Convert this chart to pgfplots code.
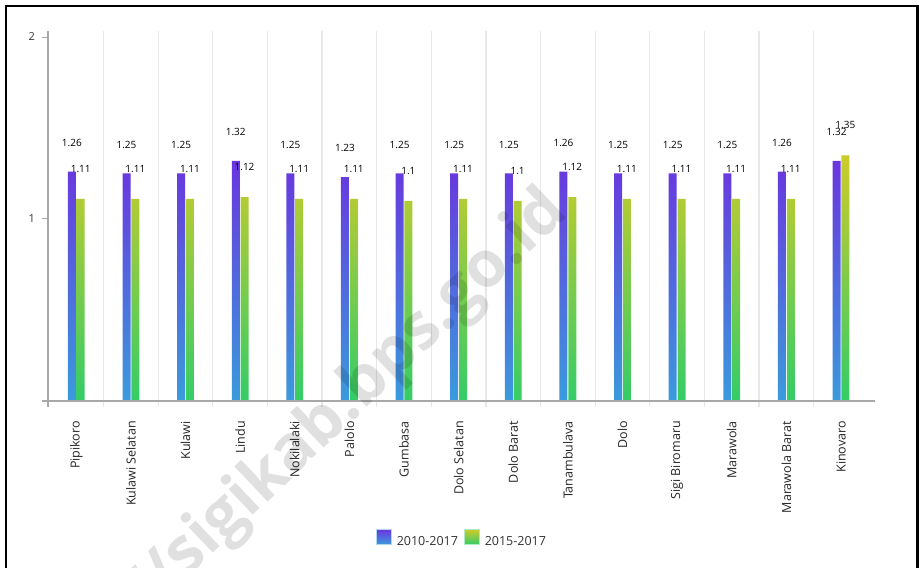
\documentclass[border=0pt]{standalone}
\usepackage{fontspec}
\setmainfont{Open Sans}
\usepackage{pgfplots}
\usepackage{pgfplotstable}
\pgfplotsset{compat=1.18}

\definecolor{aTop}{HTML}{6A35DE}
\definecolor{aBot}{HTML}{3A9BDC}
\definecolor{bTop}{HTML}{CDCB2A}
\definecolor{bBot}{HTML}{34CC68}
\definecolor{axgray}{HTML}{A8A8A8}
\definecolor{gridgray}{HTML}{E8E8E8}
\definecolor{txt}{HTML}{333333}

% x  2010-2017  2015-2017
\pgfplotstableread{
x a    b
0  1.26 1.11
1  1.25 1.11
2  1.25 1.11
3  1.32 1.12
4  1.25 1.11
5  1.23 1.11
6  1.25 1.10
7  1.25 1.11
8  1.25 1.10
9  1.26 1.12
10 1.25 1.11
11 1.25 1.11
12 1.25 1.11
13 1.26 1.11
14 1.32 1.35
}\tbl

\begin{document}
\begin{tikzpicture}[x=1pt,y=1pt]
\useasboundingbox (0,0) rectangle (919,568);

\begin{axis}[
    at={(48pt,161pt)}, anchor=south west,
    scale only axis, width=827pt, height=376pt,
    xmin=-0.518, xmax=14.623,
    ymin=-0.033, ymax=2.033,
    axis line style={draw=none},
    clip=false,
    ybar=0.8pt, bar width=8pt,
    xtick={0,...,14},
    xticklabels={Pipikoro, Kulawi Selatan, Kulawi, Lindu, Nokilalaki, Palolo, Gumbasa,
                 Dolo Selatan, Dolo Barat, Tanambulava, Dolo, Sigi Biromaru, Marawola,
                 Marawola Barat, Kinovaro},
    x tick style={draw=none},
    xticklabel style={font=\fontsize{12.5}{14}\selectfont, text=black!85,
                      inner sep=0pt, yshift=-8pt, rotate=90, anchor=east},
    minor xtick={0.5,1.5,...,13.5},
    xminorgrids=true,
    minor x grid style={gridgray, line width=1.2pt},
    ytick={0,1,2}, yticklabels={,1,2},
    ytick pos=left, xtick pos=bottom,
    tick align=outside, major tick length=6pt,
    y tick style={axgray, line width=1pt},
    yticklabel style={font=\fontsize{11}{13}\selectfont, text=txt, inner sep=0pt, xshift=-7pt},
    /pgf/number format/assume math mode=true,
    nodes near coords,
    every node near coord/.append style={font=\fontsize{10}{12}\selectfont, text=black,
                                         anchor=center},
    legend columns=2,
    legend style={draw=none, fill=none, at={(0.5006,-0.351)}, anchor=center,
                  font=\fontsize{12.5}{14}\selectfont, text=txt,
                  /tikz/every odd column/.append style={column sep=3pt},
                  /tikz/every even column/.append style={column sep=4pt}},
  ]
  \addplot[draw=none, top color=aTop, bottom color=aBot,
           every node near coord/.append style={yshift=29pt},
           legend image code/.code={\path[top color=aTop, bottom color=aBot, draw=aBot!40, line width=0.8pt]
                                    (0pt,-3pt) rectangle (15pt,12pt);}]
    table[x=x, y=a] {\tbl};
  \addlegendentry{2010-2017}
  \addplot[draw=none, top color=bTop, bottom color=bBot,
           every node near coord/.append style={yshift=30pt},
           legend image code/.code={\path[top color=bTop, bottom color=bBot, draw=bBot!40, line width=0.8pt]
                                    (0pt,-3pt) rectangle (15pt,12pt);}]
    table[x=x, y=b] {\tbl};
  \addlegendentry{2015-2017}

  % axis lines
  \draw[axgray, line width=1.8pt] (axis cs:-0.518,-0.033) -- (axis cs:-0.518,2.033);
  \draw[axgray, line width=1.5pt] (axis cs:-0.628,0) -- (axis cs:14.623,0);
\end{axis}

% watermark, semi-transparent over the chart
\node[rotate=43.5, anchor=base east, text=black, text opacity=0.12,
      font=\fontsize{64}{64}\selectfont\bfseries] at (573,356) {https://sigikab.bps.go.id};

% frame
\draw[line width=2.5pt] (6,-5) -- (6,562) -- (917.5,562) -- (917.5,-5);
\end{tikzpicture}
\end{document}
